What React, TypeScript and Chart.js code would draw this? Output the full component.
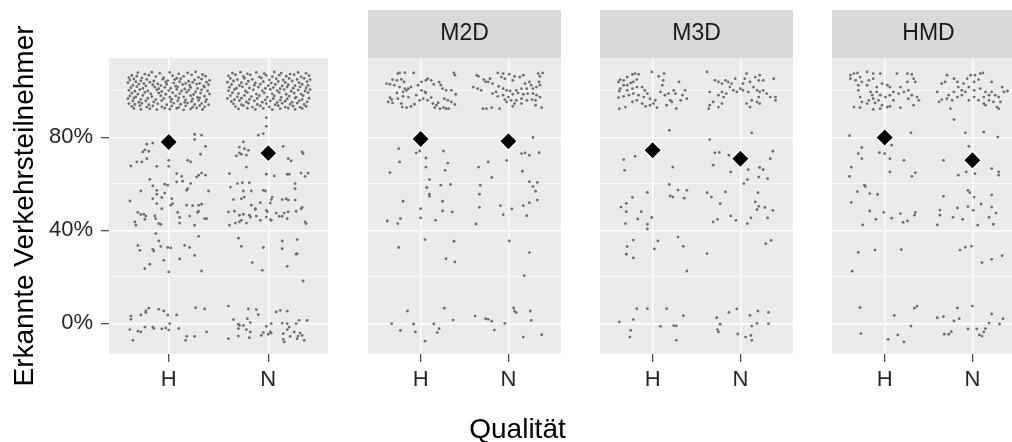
import { useEffect, useRef } from 'react';
import { Chart, registerables } from 'chart.js';

Chart.register(...registerables);

const FONT = '"Liberation Sans", Arial, Helvetica, sans-serif';
Chart.defaults.font.family = FONT;

// ---------- data ----------
const categories = ['H', 'N'];
const stripLabels = ['', 'M2D', 'M3D', 'HMD'];
const xTitle = 'Qualität';
const yTitle = 'Erkannte Verkehrsteilnehmer';
const yBreaks = [0, 40, 80];
const yMinorBreaks = [20, 60, 100];
const yTickLabels = ['0%', '40%', '80%'];

// means (diamonds), per category H, N  (percent)
const meanAll = [78.0, 73.2];
const meanM2D = [79.3, 78.3];
const meanM3D = [74.4, 70.8];
const meanHMD = [79.9, 70.1];

// jittered observations: [jitter offset from category, value in %]
const allH_top = [
[-.31,107.8],[-.24,107.2],[-.17,108.0],[-.09,107.5],[.01,107.9],[.10,107.3],[.19,107.7],[.27,108.1],[.34,107.0],[-.37,106.6],
[-.40,105.7],[-.32,106.3],[-.27,105.5],[-.20,106.7],[-.13,106.1],[-.05,105.6],[.04,106.5],[.08,105.4],[.15,106.2],[.23,106.8],[.30,105.8],[.37,106.3],
[-.39,104.6],[-.35,105.1],[-.28,104.3],[-.22,104.9],[-.15,104.2],[-.06,105.0],[-.01,104.4],[.06,104.8],[.12,105.2],[.20,104.1],[.26,104.7],[.33,105.0],[.41,104.5],
[-.41,103.5],[-.33,103.9],[-.25,103.2],[-.19,103.7],[-.11,103.0],[-.03,103.8],[.05,103.3],[.11,103.9],[.17,103.1],[.24,103.6],[.31,103.2],[.38,103.7],
[-.36,102.4],[-.30,102.9],[-.23,102.1],[-.16,102.6],[-.08,102.2],[-.02,102.8],[.07,102.0],[.14,102.7],[.21,102.3],[.28,102.9],[.35,102.1],[.40,102.6],
[-.38,101.3],[-.32,101.8],[-.26,101.0],[-.14,101.6],[-.10,100.9],[-.04,101.5],[.02,101.1],[.09,101.7],[.16,100.8],[.22,101.4],[.29,101.0],[.36,101.6],
[-.40,100.2],[-.34,99.8],[-.29,100.5],[-.21,99.9],[-.12,100.4],[-.07,99.7],[.00,100.1],[.08,100.6],[.13,99.9],[.20,100.3],[.27,99.6],[.33,100.4],[.39,99.9],
[-.37,99.0],[-.31,98.6],[-.24,99.3],[-.18,98.7],[-.10,99.1],[-.03,98.5],[.04,99.2],[.11,98.8],[.18,99.4],[.25,98.4],[.32,99.0],[.41,98.6],
[-.39,97.8],[-.33,97.4],[-.26,98.0],[-.17,97.5],[-.08,97.9],[.01,97.3],[.07,97.8],[.15,97.4],[.22,97.9],[.29,97.2],[.36,97.7],
[-.41,96.6],[-.35,96.9],[-.28,96.3],[-.21,96.8],[-.13,96.2],[-.05,96.7],[.03,96.4],[.10,96.9],[.17,96.1],[.24,96.5],[.31,96.9],[.38,96.2],
[-.36,95.6],[-.30,95.1],[-.23,95.7],[-.15,95.2],[-.07,95.8],[.02,95.3],[.09,95.7],[.16,95.0],[.23,95.4],[.30,95.9],[.37,95.3],
[-.40,94.5],[-.34,94.1],[-.27,94.6],[-.20,94.0],[-.11,94.4],[-.02,94.0],[.05,94.6],[.12,94.2],[.19,94.7],[.26,94.1],[.33,94.5],[.40,94.0],
[-.37,93.3],[-.29,93.6],[-.22,93.0],[-.16,93.5],[-.07,93.1],[.03,93.4],[.10,92.9],[.17,93.5],[.24,93.0],[.31,93.6],[.36,93.1],
[-.35,92.4],[-.28,92.0],[-.19,92.3],[-.12,91.9],[-.04,92.5],[.01,92.1],[.08,92.4],[.15,91.8],[.22,92.2],[.28,92.6],[.34,92.0]
];
const allH = [
[-.26,73.7],[-.20,74.0],[-.32,69.4],[-.27,69.4],[-.22,70.8],[-.38,67.7],[-.12,67.5],[.00,67.5],[.00,70.1],[.19,70.1],[.22,69.4],[.32,72.7],
[.08,64.4],[.13,63.2],[.08,60.8],[.14,61.1],[.22,60.1],[.28,62.9],[.30,63.7],[.33,64.6],[.37,63.7],[-.19,61.9],[-.28,56.9],[-.16,59.1],
[-.12,57.2],[-.04,59.8],[-.01,59.4],[.19,57.9],[.18,57.2],[.40,56.9],[-.39,52.6],[-.16,53.6],[-.12,55.5],[-.07,54.1],[-.04,56.0],[.03,53.6],
[.04,51.5],[.02,50.8],[-.12,51.5],[-.07,49.3],[.18,50.8],[.24,50.6],[.30,50.8],[.33,51.2],[.30,48.2],[.29,47.7],[-.31,47.7],[-.28,46.8],
[-.25,46.9],[-.23,46.1],[-.24,44.7],[-.34,43.6],[-.33,42.2],[-.14,46.2],[-.13,45.0],[-.10,42.9],[-.08,42.6],[.11,45.5],[.11,43.1],[.21,46.1],
[.26,42.2],[.36,45.0],[.38,45.0],[.09,47.7],
[-.13,38.6],[-.10,35.4],[-.08,33.1],[-.31,33.5],[-.29,31.4],[-.16,31.8],[-.15,31.1],[-.05,27.1],[-.01,32.6],[.02,32.4],[.11,27.7],[.16,33.5],
[.21,32.6],[.26,29.2],[.30,37.4],[-.19,25.4],[-.24,23.5],[.00,22.1],[.33,22.5],
[-.38,3.1],[-.38,1.7],[-.28,3.6],[-.23,4.6],[-.20,6.5],[-.23,5.3],[-.10,6.0],[-.05,5.3],[-.01,3.6],[.08,3.6],[-.39,-2.7],[-.31,-3.4],
[-.28,-3.7],[-.36,-7.3],[-.24,-1.6],[-.16,-1.6],[-.15,-2.2],[-.07,-2.4],[-.03,-2.0],[.00,-2.9],[.01,-0.1],[.10,-2.2],[.17,-7.3],[.18,-5.6],
[.26,-5.6],[.27,6.7],[.36,6.2],[.38,-3.7],
[-.22,77.0],[-.16,77.5],[-.24,74.6],[.26,81.2],[.33,80.9],[.26,79.0],[.37,76.1]
];
const allN_top = [
[-.36,107.6],[-.28,108.0],[-.21,107.3],[-.12,107.9],[-.04,107.4],[.06,108.1],[.13,107.6],[.22,107.2],[.30,107.9],[.38,107.5],
[-.40,106.4],[-.33,106.9],[-.25,106.2],[-.18,106.8],[-.09,106.0],[-.02,106.6],[.04,106.1],[.11,106.7],[.18,106.3],[.26,106.9],[.33,106.0],[.41,106.5],
[-.38,105.3],[-.31,104.8],[-.24,105.4],[-.16,104.9],[-.07,105.5],[.01,104.7],[.08,105.2],[.15,104.6],[.21,105.3],[.29,104.9],[.36,105.4],[.42,104.8],
[-.41,103.7],[-.35,104.2],[-.27,103.5],[-.20,104.1],[-.13,103.4],[-.05,103.9],[.03,103.3],[.10,104.0],[.17,103.6],[.24,104.2],[.31,103.5],[.39,103.9],
[-.37,102.7],[-.29,102.3],[-.22,102.9],[-.14,102.4],[-.08,102.8],[.00,102.2],[.07,102.7],[.14,102.1],[.20,102.6],[.27,102.2],[.34,102.8],[.40,102.3],
[-.39,101.5],[-.32,101.1],[-.26,101.7],[-.19,101.2],[-.10,101.6],[-.03,101.0],[.05,101.4],[.12,100.9],[.19,101.6],[.25,101.1],[.32,101.7],[.38,101.2],
[-.40,100.0],[-.34,100.5],[-.23,99.9],[-.15,100.4],[-.06,100.0],[.02,100.6],[.09,100.1],[.16,100.5],[.23,99.8],[.30,100.3],[.37,99.9],[.42,100.5],
[-.36,99.2],[-.30,98.8],[-.21,99.3],[-.12,98.6],[-.04,99.1],[.04,98.7],[.11,99.3],[.18,98.5],[.26,99.0],[.33,98.6],[.40,99.2],
[-.38,97.9],[-.31,97.4],[-.24,98.0],[-.17,97.5],[-.09,97.9],[-.01,97.3],[.06,97.8],[.13,97.2],[.21,97.7],[.28,97.3],[.35,97.9],
[-.41,96.7],[-.34,96.2],[-.27,96.8],[-.19,96.3],[-.11,96.7],[-.03,96.1],[.05,96.6],[.12,96.0],[.19,96.5],[.27,96.9],[.34,96.3],[.41,96.8],
[-.37,95.4],[-.29,95.8],[-.22,95.2],[-.14,95.7],[-.06,95.1],[.02,95.6],[.09,95.0],[.17,95.5],[.24,95.1],[.31,95.7],[.39,95.2],
[-.35,94.4],[-.27,94.0],[-.20,94.6],[-.11,94.1],[-.02,94.5],[.07,94.0],[.14,94.6],[.22,94.2],[.29,94.7],[.36,94.1],
[-.33,93.2],[-.25,93.6],[-.16,93.0],[-.08,93.5],[.01,93.1],[.10,93.6],[.17,93.0],[.25,93.4],[.32,92.9],[.38,93.3],
[-.30,92.2],[-.21,92.5],[-.13,92.0],[-.05,92.4],[.04,91.9],[.12,92.3],[.20,92.6],[.27,92.0],[.34,92.4]
];
const allN = [
[-.02,88.5],[-.02,84.7],[-.05,81.6],[-.10,80.9],[-.25,78.0],[-.29,75.8],[-.24,75.1],[-.20,74.4],[-.22,72.3],[.15,76.1],[.20,70.8],[.34,73.7],[.35,73.0],
[-.32,72.0],[-.29,73.3],[-.27,72.7],[-.22,67.2],[-.02,64.1],[.06,63.4],[.23,69.8],
[-.39,64.4],[-.31,60.1],[-.26,60.5],[-.19,60.5],[-.38,58.6],[-.25,56.9],[-.17,56.9],[-.05,57.2],[-.03,56.9],[-.35,53.2],[-.27,53.6],[-.24,54.3],
[-.17,50.8],[-.13,48.9],[-.08,51.9],[.03,53.2],[.02,51.7],[.04,54.3],[.18,53.6],[.14,53.2],[.20,53.0],[.27,60.1],[.27,57.9],[.27,53.0],
[.33,64.6],[.37,63.2],[.40,64.6],[.33,49.3],[.34,49.8],[.19,64.1],[.21,64.1],[-.40,47.9],[-.34,48.2],[-.29,46.5],[-.25,46.9],[-.22,43.1],
[-.18,45.7],[-.19,46.5],[-.12,46.1],[-.08,44.3],[-.02,48.6],[-.01,48.0],[.02,44.6],[.03,44.3],[.08,47.4],[.11,46.0],[.14,46.0],[.16,47.4],
[.19,45.0],[.20,47.9],[.28,48.2],[.37,43.6],[.38,42.9],[-.39,42.2],[-.33,43.1],[-.29,43.6],[-.27,44.3],[-.13,49.3],[-.02,45.7],
[-.30,36.6],[-.27,33.1],[-.05,32.6],[.14,35.4],[.14,32.1],[.29,36.0],[.29,30.0],[.28,29.7],[-.16,26.1],[-.06,22.8],[.19,24.5],[.35,18.2],
[-.40,7.4],[-.35,1.6],[-.30,-0.4],[-.30,-2.3],[-.29,-0.9],[-.25,-0.9],[-.21,2.0],[-.20,6.2],[-.18,0.3],[-.18,-3.7],[-.12,5.9],[-.10,3.7],
[-.05,-4.0],[-.02,-1.3],[.00,-4.7],[.02,-3.7],[.03,-4.2],[.03,-0.1],[.08,4.9],[.12,5.6],[.14,0.1],[.15,-4.4],[.15,-6.9],[.16,-8.0],
[.19,5.2],[.19,-0.1],[.21,-1.6],[.22,-5.6],[.26,-3.7],[.28,-0.1],[.31,1.3],[.32,-4.2],[.30,-5.5],[.29,-6.6],[.34,-5.2],[.36,-7.3],
[.39,1.3],[-.40,-6.6],[-.30,-5.5],[-.19,-6.2],[-.07,-5.2],[.19,-2.7],[-.22,-2.7]
];

const m2dH = [
[-.26,107.4],[-.24,107.7],[-.18,107.8],[-.08,107.7],[-.32,104.8],[-.27,104.5],[-.22,104.9],[-.19,103.8],[-.39,103.1],[-.35,102.8],[-.30,102.4],
[-.24,101.6],[-.18,100.9],[-.14,100.9],[-.16,100.2],[-.11,101.6],[-.03,102.4],[.01,103.8],[.06,104.5],[.08,105.2],[.12,104.5],[.15,102.8],
[.21,103.7],[.23,102.4],[.25,100.9],[.29,100.2],[.35,100.2],[.38,107.7],[.39,106.7],[.40,98.5],[-.35,97.1],[-.33,96.2],[-.26,96.6],[-.20,97.6],
[-.32,94.8],[-.37,95.2],[-.22,94.5],[-.21,93.0],[-.16,92.8],[-.11,93.3],[-.07,94.2],[-.01,95.9],[.03,96.6],[.05,99.5],[.06,99.1],[.01,100.2],
[-.05,98.1],[.08,95.9],[.14,94.5],[.16,92.8],[.20,94.9],[.22,92.3],[.26,92.8],[.29,92.3],[.32,92.3],[.31,95.9],[.27,96.6],[.35,95.2],
[.39,94.1],[.18,93.8],[.12,97.1],[-.27,99.1],[-.20,99.5],[-.14,97.3],
[-.25,75.1],[-.05,73.3],[-.01,74.1],[.06,71.1],[.26,74.1],[-.24,69.4],[.06,67.2],[.31,68.9],[-.35,64.8],[.10,61.8],[.07,58.4],[.10,55.5],
[.10,54.6],[.23,59.4],[.34,59.7],[.28,65.8],[-.20,52.5],[.00,49.3],[.25,52.5],[.25,48.3],[.36,47.9],[-.38,44.0],[-.26,42.9],[-.23,45.0],
[.00,45.3],[.17,44.3],[.05,36.0],[-.25,32.6],[.38,35.3],[.29,27.8],[.39,26.4],
[-.15,5.3],[-.33,-0.1],[-.23,-3.1],[-.08,-0.3],[-.06,-3.7],[.05,-7.7],[.15,-0.3],[.19,-4.0],[.21,-2.3],[.27,6.5],[.37,1.4]
];
const m2dN = [
[-.40,101.6],[-.36,106.7],[-.34,106.2],[-.28,104.8],[-.23,103.8],[-.21,105.2],[-.18,103.1],[-.12,107.7],[-.06,107.4],[-.08,105.9],[-.04,105.2],
[.01,107.1],[.05,104.5],[.07,106.2],[.13,105.9],[.17,106.7],[.19,103.1],[.24,103.8],[.26,102.4],[.34,107.4],[.36,106.2],[.39,107.7],
[.35,103.8],[.36,102.4],[.32,101.6],[.28,100.9],[.21,100.9],[.15,100.9],[.09,100.2],[.02,99.9],[-.02,100.2],[-.06,100.9],[-.11,101.9],
[-.14,99.5],[-.18,98.8],[-.12,97.6],[-.06,98.1],[.00,97.3],[.05,98.5],[.11,99.1],[.17,98.5],[.22,98.8],[.28,98.8],[.32,98.1],[.36,97.3],
[.31,95.9],[.27,96.2],[.21,95.9],[.15,96.6],[.09,95.9],[.03,95.9],[-.02,95.2],[-.04,96.2],[.07,94.5],[.15,94.5],[.31,93.8],[.38,92.8],
[-.29,92.3],[-.25,92.3],[-.19,92.8],[-.10,92.3],[.05,93.3],[-.35,100.9],[-.31,100.2],[-.26,103.8],
[.28,79.9],[.15,73.0],[.19,73.3],[.24,72.3],[.35,73.4],[-.34,67.2],[-.23,69.4],[-.02,70.1],[.16,65.4],[-.19,62.7],[-.32,59.4],[-.33,55.5],
[-.33,49.9],[.24,60.9],[.28,58.8],[.33,60.6],[.31,56.8],[.33,53.0],[.24,51.9],[.17,50.6],[-.09,50.6],[-.06,46.7],[.04,49.2],[.21,46.3],
[-.37,42.7],[.01,35.4],[.24,30.4],[.18,20.5],
[-.38,3.1],[-.26,2.0],[-.23,1.7],[-.19,0.9],[-.16,-2.9],[-.04,0.0],[.06,6.6],[.07,5.3],[.09,4.6],[.25,5.3],[.26,1.3],[.17,-5.9],[.38,-4.9]
];

const m3dH = [
[-.39,103.8],[-.37,104.8],[-.33,104.5],[-.29,105.9],[-.23,107.0],[-.20,107.4],[-.16,107.1],[-.18,104.8],[-.22,103.8],[-.25,103.4],[-.29,102.4],
[-.33,102.4],[-.37,100.9],[-.38,99.9],[-.29,100.2],[-.23,100.9],[-.18,101.6],[-.12,101.6],[-.09,100.2],[-.06,98.8],[-.10,97.3],[-.16,98.1],
[-.22,98.8],[-.27,98.1],[-.33,97.6],[-.39,97.1],[-.38,92.3],[-.31,93.0],[-.23,95.2],[-.18,95.9],[-.12,94.5],[-.08,93.3],[-.03,96.6],[.03,95.9],
[.01,94.5],[-.03,93.8],[.05,92.8],[.09,99.5],[.11,102.4],[.12,104.5],[.13,107.4],[-.01,108.1],[.07,106.2],[.14,98.1],[.18,98.8],[.20,95.9],
[.24,100.2],[.30,103.8],[.26,98.8],[.34,98.1],[.37,100.2],[.39,96.6],[.32,95.9],[.22,95.2],[.16,93.8],[.27,92.3],
[.19,83.0],[-.33,70.4],[-.20,71.8],[-.32,65.8],[.23,67.2],[-.06,56.3],[-.23,54.2],[-.30,51.6],[-.36,50.0],[-.30,48.0],[-.13,48.0],[-.17,44.9],
[-.31,42.9],[-.06,42.6],[-.06,40.6],[-.01,45.5],[-.22,35.8],[.06,35.4],[-.29,33.0],[.02,32.0],[-.30,29.7],[-.22,28.1],[.19,59.7],[.20,54.8],
[.23,54.3],[.29,57.3],[.36,53.8],[.39,57.2],[.29,37.1],[.35,33.1],[.39,22.5],
[-.18,6.3],[-.06,6.3],[.16,6.3],[-.22,1.6],[-.38,0.6],[-.25,-3.0],[-.26,-5.9],[.09,-1.3],[.24,-1.0],[.27,-1.1],[.27,-7.3],[.35,3.3]
];
const m3dN = [
[-.38,108.1],[-.29,104.5],[-.25,103.8],[-.21,103.1],[-.17,104.5],[-.14,103.8],[-.06,105.2],[-.12,101.6],[-.08,100.2],[-.04,99.5],[-.16,98.8],
[-.21,99.5],[-.35,99.5],[-.25,98.1],[-.19,97.3],[-.31,95.2],[-.35,93.8],[-.36,92.3],[-.25,93.0],[-.21,94.5],[.07,107.4],[.05,105.2],
[.11,103.8],[.17,105.9],[.22,106.7],[.21,104.5],[.26,104.5],[.38,105.2],[.03,100.2],[.09,99.5],[.15,101.6],[.19,100.2],[.22,99.5],
[.26,100.2],[.30,98.8],[.34,97.3],[.40,97.3],[.40,95.9],[.21,97.3],[.19,95.2],[.22,94.5],[.13,95.9],[.11,93.0],[.07,94.5],[.00,100.9],
[.03,103.1],[-.10,103.1],
[-.35,79.0],[-.29,73.3],[-.24,73.5],[-.31,68.0],[-.13,72.3],[.09,66.1],[.13,81.9],[.22,67.0],[.26,66.1],[.34,70.8],[.37,74.0],[-.38,56.2],
[-.33,54.3],[-.23,51.5],[-.17,56.5],[-.11,65.1],[-.11,46.2],[-.05,44.3],[-.31,43.6],[-.26,44.7],[-.38,30.0],[.04,60.1],[.08,61.8],[.21,62.9],
[.31,62.2],[.20,56.2],[.17,52.2],[.21,50.3],[.19,48.9],[.28,49.8],[.37,48.6],[.31,45.3],[.12,45.3],[.08,42.9],[.29,34.3],[.35,35.7],
[-.27,2.4],[-.23,-0.4],[-.26,-2.7],[-.25,-3.7],[-.13,4.7],[-.04,6.2],[-.03,-4.6],[.06,-5.9],[.11,3.4],[.13,-1.2],[.12,-5.2],[.13,-7.3],
[.19,0.0],[.20,5.3],[.32,4.7],[.32,-0.1]
];

const hmdH = [
[-.39,106.7],[-.35,107.4],[-.31,107.7],[-.28,105.9],[-.20,108.1],[-.13,107.4],[-.05,107.4],[-.13,105.2],[-.18,104.5],[-.26,103.8],[-.33,104.5],
[-.39,105.2],[-.30,102.4],[-.30,100.2],[-.20,102.4],[-.16,99.5],[-.09,101.6],[-.03,103.1],[.03,102.4],[.06,101.6],[.14,107.4],[.18,101.6],
[.26,107.4],[.31,107.1],[.33,105.2],[.26,103.8],[.35,103.8],[.27,100.2],[.22,99.5],[.16,98.8],[.10,99.5],[.06,98.1],[.01,97.3],[-.05,98.1],
[-.13,96.6],[-.18,95.9],[-.26,95.2],[-.20,94.5],[-.11,94.8],[-.07,95.9],[-.03,93.8],[.03,93.0],[.06,93.3],[.10,95.9],[.18,92.8],[.27,96.6],
[.31,98.1],[.37,97.3],[.39,95.9],[.33,93.8],[-.35,93.0],[-.28,92.8],[-.13,92.0],[-.05,92.3],[-.14,98.1],[-.28,97.3],[-.09,99.5],
[-.40,80.7],[-.26,75.6],[-.30,73.0],[-.26,70.8],[-.06,73.4],[.00,73.0],[.06,70.8],[.08,76.6],[.22,70.1],[.30,81.9],[.35,64.7],[.31,63.2],
[-.38,67.2],[-.40,63.2],[.06,65.1],[-.38,52.0],[-.31,56.6],[-.23,59.4],[-.22,58.8],[-.17,55.8],[-.08,55.4],[-.17,48.3],[-.25,42.3],[-.10,44.7],
[-.01,47.7],[.08,45.2],[.18,47.2],[.21,43.4],[.26,44.0],[.34,46.5],[.35,47.7],[-.30,30.5],[-.37,22.4],[-.11,31.5],[.19,31.7],
[-.28,6.8],[.11,3.4],[.34,6.5],[.37,7.4],[.30,-1.2],[-.27,-4.4],[.04,-6.9],[.15,-5.0],[.22,-8.0]
];
const hmdN = [
[-.40,99.5],[-.35,103.1],[-.31,103.8],[-.29,106.7],[-.21,105.2],[-.17,103.8],[-.16,101.6],[-.12,100.2],[-.10,103.1],[-.06,105.2],[-.02,106.7],
[.03,106.7],[.09,107.4],[.12,107.7],[.07,104.8],[.02,103.8],[-.04,101.6],[-.08,99.5],[-.12,98.1],[-.17,97.3],[-.23,95.9],[-.29,96.6],
[-.35,96.2],[-.38,95.2],[-.25,92.3],[-.21,99.5],[-.27,98.1],[.02,97.3],[.07,95.9],[.13,97.3],[.19,98.1],[.22,99.5],[.26,98.1],[.30,97.3],
[.34,101.6],[.36,99.5],[.40,99.9],[.24,95.2],[.28,93.0],[.30,92.3],[.15,93.8],[.13,94.5],[.19,95.9],[.22,103.8],[.02,100.2],[-.04,95.9],
[.09,100.9],[.15,99.5],[.32,95.2],
[-.21,87.6],[-.08,81.9],[.13,82.3],[.29,80.1],[-.04,76.1],[-.33,70.1],[-.07,65.1],[-.16,63.7],[.03,64.4],[.22,66.5],[.30,65.1],[.30,63.7],
[-.05,57.2],[-.03,56.2],[.02,54.3],[.22,55.2],[.10,51.3],[-.05,50.2],[.01,48.6],[.22,50.0],[.27,47.4],[.19,45.6],[.24,42.6],[.06,42.2],
[-.11,44.7],[-.22,45.6],[-.37,48.7],[-.37,46.5],[-.33,54.6],[-.17,49.6],[-.40,42.3],[-.14,31.5],[-.08,32.7],[-.01,33.1],[.11,26.1],[.22,27.5],
[.34,29.1],
[-.17,6.6],[.00,7.4],[.22,4.0],[.35,2.0],[-.40,2.4],[-.33,2.9],[-.21,1.0],[-.15,2.0],[-.32,-4.7],[-.27,-4.7],[-.24,-3.6],[-.05,-2.4],
[.05,-2.4],[.08,-5.0],[.11,-5.5],[.13,-3.7],[.15,-2.3],[.19,0.1],[.31,-0.3]
];

// ---------- layout / style ----------
const Y_MIN = -13.2;
const Y_MAX = 114.1;
const X_MIN = 0.4;
const X_MAX = 2.6;
const PANEL_TOP = 58;
const PANEL_BOTTOM = 354;
const STRIP_TOP = 10;
const TEXT = '#1a1a1a';
const TICK_TEXT = '#262626';

const panels = [
  { strip: stripLabels[0], h: [...allH_top, ...allH], n: [...allN_top, ...allN], means: meanAll, left: 0, cw: 1012, ch: 442, yAxisW: 109, padRight: 684, first: true },
  { strip: stripLabels[1], h: m2dH, n: m2dN, means: meanM2D, left: 368, cw: 193, ch: 400, yAxisW: 0, padRight: 0, first: false },
  { strip: stripLabels[2], h: m3dH, n: m3dN, means: meanM3D, left: 600, cw: 193, ch: 400, yAxisW: 0, padRight: 0, first: false },
  { strip: stripLabels[3], h: hmdH, n: hmdN, means: meanHMD, left: 832, cw: 193, ch: 400, yAxisW: 0, padRight: 0, first: false },
];

const toPts = (arr: number[][], cat: number) => arr.map(([dx, y]) => ({ x: cat + dx, y }));
const isMajor = (v: number) => yBreaks.includes(v);

const panelBg = {
  id: 'panelBg',
  beforeDraw(chart: any, _args: any, opts: any) {
    const { ctx, chartArea: a } = chart;
    ctx.save();
    ctx.fillStyle = '#EBEBEB';
    ctx.fillRect(a.left, a.top, a.right - a.left, a.bottom - a.top);
    if (opts && opts.strip) {
      ctx.fillStyle = '#D9D9D9';
      ctx.fillRect(a.left, STRIP_TOP, a.right - a.left, a.top - STRIP_TOP);
      ctx.fillStyle = TEXT;
      ctx.font = `23px ${FONT}`;
      ctx.textAlign = 'center';
      ctx.textBaseline = 'middle';
      ctx.fillText(opts.strip, (a.left + a.right) / 2, (STRIP_TOP + a.top) / 2);
    }
    ctx.restore();
  },
};

const axisTitles = {
  id: 'axisTitles',
  afterDraw(chart: any) {
    const ctx = chart.ctx;
    ctx.save();
    ctx.fillStyle = '#000';
    ctx.font = `28px ${FONT}`;
    ctx.textAlign = 'center';
    ctx.textBaseline = 'alphabetic';
    ctx.fillText(xTitle, 517.5, 438.3);
    ctx.translate(33.3, (PANEL_TOP + PANEL_BOTTOM) / 2);
    ctx.rotate(-Math.PI / 2);
    ctx.fillText(yTitle, 0, 0);
    ctx.restore();
  },
};

function buildConfig(p: any): any {
  return {
    type: 'scatter',
    data: {
      datasets: [
        {
          data: categories.map((_, i) => ({ x: i + 1, y: p.means[i] })),
          pointStyle: 'rectRot',
          pointRadius: 9,
          pointHoverRadius: 9,
          pointBackgroundColor: '#000000',
          pointBorderColor: '#FFFFFF',
          pointBorderWidth: 1.5,
        },
        {
          data: [...toPts(p.h, 1), ...toPts(p.n, 2)],
          pointStyle: 'circle',
          pointRadius: 1.4,
          pointHoverRadius: 1.4,
          pointBackgroundColor: '#6E6E6E',
          pointBorderWidth: 0,
        },
      ],
    },
    options: {
      animation: false,
      responsive: false,
      maintainAspectRatio: false,
      events: [],
      layout: { autoPadding: false, padding: { left: 0, right: p.padRight, top: PANEL_TOP, bottom: 0 } },
      plugins: {
        legend: { display: false },
        tooltip: { enabled: false },
        panelBg: { strip: p.strip },
      },
      scales: {
        x: {
          type: 'linear',
          min: X_MIN,
          max: X_MAX,
          afterBuildTicks: (s: any) => { s.ticks = categories.map((_, i) => ({ value: i + 1 })); },
          afterFit: (s: any) => { s.height = p.ch - PANEL_BOTTOM; },
          grid: { color: '#FFFFFF', lineWidth: 1.4, tickLength: 8, tickColor: '#333333', tickWidth: 1.1 },
          border: { display: false },
          ticks: {
            autoSkip: false, maxRotation: 0, padding: 5, color: TICK_TEXT,
            font: { size: 22, family: FONT, lineHeight: 1.2 },
            callback: (v: number) => categories[Math.round(v) - 1] ?? '',
          },
        },
        y: {
          type: 'linear',
          min: Y_MIN,
          max: Y_MAX,
          afterBuildTicks: (s: any) => { s.ticks = [...yBreaks, ...yMinorBreaks].sort((a, b) => a - b).map((v) => ({ value: v })); },
          afterFit: (s: any) => { s.width = p.yAxisW; },
          grid: {
            color: '#FFFFFF',
            lineWidth: (c: any) => (c.tick && isMajor(c.tick.value) ? 1.4 : 0.7),
            drawTicks: p.first,
            tickLength: 8,
            tickWidth: 1.1,
            tickColor: (c: any) => (c.tick && isMajor(c.tick.value) ? '#333333' : 'rgba(0,0,0,0)'),
          },
          border: { display: false },
          ticks: {
            display: p.first, autoSkip: false, padding: 8, color: TICK_TEXT,
            font: { size: 22, family: FONT, lineHeight: 1.2 },
            callback: (v: number) => { const i = yBreaks.indexOf(v); return i >= 0 ? yTickLabels[i] : ''; },
          },
        },
      },
    },
    plugins: p.first ? [panelBg, axisTitles] : [panelBg],
  };
}

export default function App() {
  const canvases = useRef<(HTMLCanvasElement | null)[]>([]);
  useEffect(() => {
    const charts = panels.map((p, i) => new Chart(canvases.current[i] as HTMLCanvasElement, buildConfig(p)));
    return () => charts.forEach((c) => c.destroy());
  }, []);
  return (
    <div style={{ position: 'absolute', left: 0, top: 0, width: 1012, height: 442, overflow: 'hidden', background: '#FFFFFF' }}>
      {panels.map((p, i) => (
        <canvas
          key={i}
          ref={(el) => { canvases.current[i] = el; }}
          width={p.cw}
          height={p.ch}
          style={{ position: 'absolute', left: p.left, top: 0, width: p.cw, height: p.ch }}
        />
      ))}
    </div>
  );
}
